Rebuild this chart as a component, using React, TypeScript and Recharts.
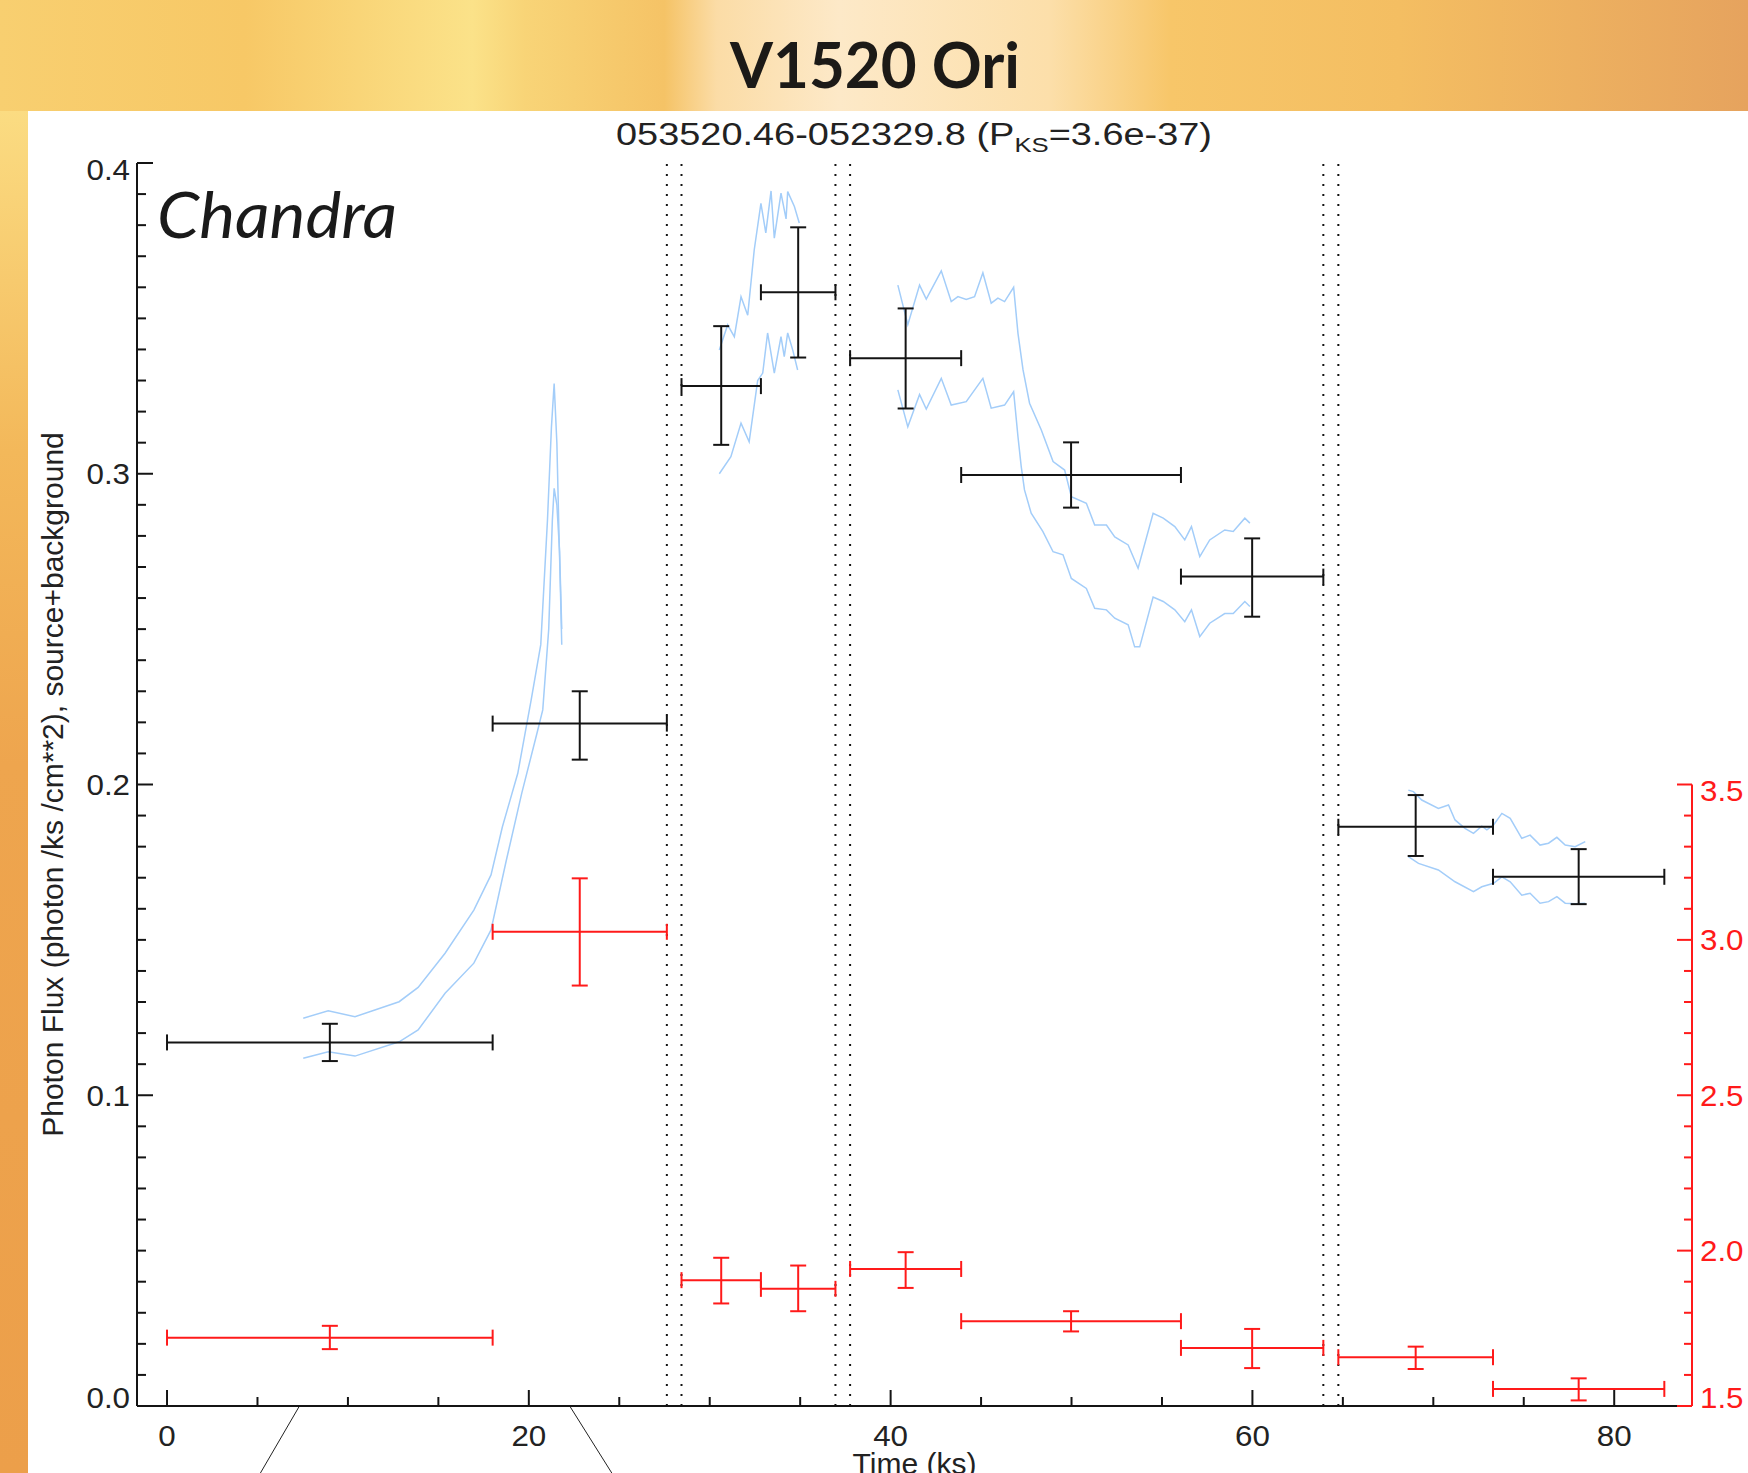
import React from 'react'
import { ComposedChart, XAxis, YAxis, Line, Scatter, ErrorBar, ReferenceLine } from 'recharts'

const W = 1748
const H = 1473

const FONT = '"Liberation Sans", Arial, Helvetica, sans-serif'
const INK = '#141414'
const RED = '#ff1a1a'
const BLUE = '#a3cdf9'

// time bins (ks)
const binStart = [0, 18, 28.44, 32.83, 37.76, 43.9, 56.05, 64.75, 73.3]
const binEnd = [18, 27.63, 32.83, 36.95, 43.9, 56.05, 63.92, 73.3, 82.77]

// photon flux, source+background
const flux = [0.117, 0.2196, 0.3282, 0.3584, 0.3372, 0.2996, 0.2669, 0.1864, 0.1703]
const fluxLow = [0.111, 0.208, 0.3093, 0.3374, 0.321, 0.2891, 0.254, 0.177, 0.1615]
const fluxHigh = [0.123, 0.23, 0.3475, 0.3793, 0.3532, 0.3101, 0.2792, 0.1966, 0.1792]

// median energy (keV), right axis
const energy = [1.72, 3.026, 1.905, 1.877, 1.941, 1.773, 1.687, 1.657, 1.555]
const energyLow = [1.683, 2.853, 1.83, 1.805, 1.88, 1.74, 1.622, 1.619, 1.518]
const energyHigh = [1.758, 3.198, 1.977, 1.952, 1.995, 1.805, 1.748, 1.691, 1.589]

// good-time-interval breaks
const gtiBreaks = [27.63, 28.44, 36.95, 37.76, 63.92, 64.75]

// smoothed light-curve envelopes: [time, flux]
const upperA = [[7.53, 0.1248], [8.91, 0.1272], [10.39, 0.1253], [12.83, 0.1301], [13.88, 0.1347], [15.37, 0.1457], [16.96, 0.1596], [17.91, 0.1709], [18.54, 0.1864], [19.39, 0.2036], [20.13, 0.2272], [20.66, 0.245], [21.03, 0.285], [21.25, 0.315], [21.4, 0.329], [21.55, 0.31], [21.67, 0.28], [21.75, 0.262], [21.82, 0.245]]
const lowerA = [[7.53, 0.1119], [8.91, 0.114], [10.39, 0.1126], [12.83, 0.1172], [13.88, 0.121], [15.37, 0.1328], [16.96, 0.1425], [17.91, 0.1532], [18.76, 0.1757], [19.61, 0.1972], [20.45, 0.2165], [20.77, 0.224], [21.1, 0.25], [21.3, 0.285], [21.4, 0.2953], [21.55, 0.29], [21.7, 0.275], [21.82, 0.25]]
const upperB = [[30.53, 0.3398], [30.99, 0.3479], [31.36, 0.3441], [31.73, 0.357], [32.1, 0.351], [32.46, 0.372], [32.83, 0.387], [33.1, 0.3775], [33.39, 0.391], [33.57, 0.3758], [33.94, 0.3903], [34.22, 0.382], [34.31, 0.3908], [34.68, 0.386], [34.95, 0.3807]]
const lowerB = [[30.53, 0.3], [31.17, 0.3055], [31.73, 0.3163], [32.18, 0.3103], [32.65, 0.33], [32.93, 0.3324], [33.2, 0.3453], [33.57, 0.3324], [33.94, 0.3441], [34.12, 0.3377], [34.31, 0.3453], [34.59, 0.3398], [34.86, 0.3334]]
const upperC = [[40.4, 0.3607], [40.95, 0.348], [41.6, 0.3607], [41.97, 0.3562], [42.8, 0.3653], [43.35, 0.3554], [43.72, 0.357], [44.18, 0.3561], [44.64, 0.357], [45.1, 0.3647], [45.56, 0.3549], [45.93, 0.3565], [46.3, 0.3554], [46.8, 0.36], [47.04, 0.3452], [47.32, 0.3334], [47.68, 0.3227], [48.33, 0.3141], [48.98, 0.3039], [49.62, 0.3012], [49.99, 0.2926], [50.82, 0.2905], [51.28, 0.2835], [51.93, 0.2835], [52.39, 0.2797], [53.13, 0.2771], [53.68, 0.2696], [54.51, 0.2873], [55.07, 0.2857], [55.71, 0.283], [56.26, 0.2787], [56.63, 0.283], [57.09, 0.2733], [57.64, 0.2787], [58.47, 0.2819], [58.94, 0.2814], [59.58, 0.2857], [59.86, 0.2841]]
const lowerC = [[40.4, 0.327], [40.95, 0.3151], [41.6, 0.3255], [41.97, 0.3208], [42.8, 0.3307], [43.35, 0.3221], [44.18, 0.3232], [45.1, 0.3307], [45.56, 0.3211], [46.3, 0.3221], [46.8, 0.3264], [47.04, 0.3119], [47.22, 0.3023], [47.4, 0.2948], [47.77, 0.2873], [48.42, 0.2814], [48.98, 0.2749], [49.53, 0.2739], [49.99, 0.2663], [50.82, 0.2631], [51.28, 0.2567], [51.93, 0.2562], [52.39, 0.2535], [53.13, 0.2514], [53.49, 0.2443], [53.77, 0.2443], [54.51, 0.2603], [55.07, 0.2589], [55.71, 0.2562], [56.26, 0.2524], [56.63, 0.2562], [57.09, 0.2476], [57.64, 0.2519], [58.47, 0.255], [58.94, 0.255], [59.58, 0.2589], [59.86, 0.2573]]
const upperD = [[68.62, 0.1982], [68.9, 0.1977], [69.36, 0.195], [70.28, 0.1923], [70.84, 0.1934], [71.2, 0.1886], [71.75, 0.1859], [72.22, 0.1843], [72.68, 0.1866], [72.96, 0.1854], [73.33, 0.187], [73.79, 0.1907], [74.25, 0.1891], [74.89, 0.1827], [75.35, 0.1837], [75.9, 0.1805], [76.37, 0.1811], [76.83, 0.183], [77.29, 0.1805], [77.84, 0.18], [78.4, 0.1816]]
const lowerD = [[68.62, 0.1768], [69.18, 0.1746], [70.28, 0.1725], [71.2, 0.1687], [72.22, 0.1655], [72.68, 0.1671], [73.33, 0.1682], [73.79, 0.1703], [74.25, 0.1687], [74.89, 0.1644], [75.35, 0.165], [75.9, 0.1618], [76.37, 0.1623], [76.83, 0.1639], [77.29, 0.1618], [77.84, 0.1616], [78.4, 0.1618]]

// axis ranges
const xDomain: [number, number] = [-1.66, 84.3]
const yDomain: [number, number] = [0, 0.4]
const eDomain: [number, number] = [1.5, 5.5]

// callout lines below the time axis: [time, flux]
const callouts = [
  [[7.32, 0], [5.16, -0.0216]],
  [[22.26, 0], [24.59, -0.0216]],
]

const xTicks = Array.from({ length: 17 }, (_, i) => i * 5)
const yTicks = Array.from({ length: 41 }, (_, i) => i / 100)
const eTicks = Array.from({ length: 21 }, (_, i) => (i + 15) / 10)

const fluxPoints = binStart.map((s, i) => {
  const half = (binEnd[i] - s) / 2
  return { t: s + half, f: flux[i], tErr: [half, half], fErr: [flux[i] - fluxLow[i], fluxHigh[i] - flux[i]] }
})

const energyPoints = binStart.map((s, i) => {
  const half = (binEnd[i] - s) / 2
  return { t: s + half, e: energy[i], tErr: [half, half], eErr: [energy[i] - energyLow[i], energyHigh[i] - energy[i]] }
})

const envelopes = [upperA, lowerA, upperB, lowerB, upperC, lowerC, upperD, lowerD].map((seg) =>
  seg.map(([t, f]) => ({ t, f }))
)

const labelText = (x: number, y: number, text: string, anchor: string, fill: string) => (
  <text
    transform={`translate(${x},${y}) scale(1.08 1)`}
    textAnchor={anchor}
    fontSize={29}
    fontFamily={FONT}
    fill={fill}
  >
    {text}
  </text>
)

// end labels sit a little inside the axis range
const edgeNudge = (isFirst: boolean, isLast: boolean) => (isFirst ? -9 : isLast ? 6 : 0)

function BottomTick(props: any) {
  const { x, y, payload } = props
  const v = payload.value
  const major = v % 20 === 0
  return (
    <g>
      <line x1={x} x2={x} y1={y} y2={y - (major ? 16 : 9)} stroke={INK} strokeWidth={2} />
      {major && labelText(x, y + 40, String(v), 'middle', '#222')}
    </g>
  )
}

function TopTick(props: any) {
  const { x, y, payload } = props
  const major = payload.value % 20 === 0
  return <line x1={x} x2={x} y1={y} y2={y + (major ? 16 : 9)} stroke={INK} strokeWidth={2} />
}

function LeftTick(props: any) {
  const { x, y, payload } = props
  const k = Math.round(payload.value * 100)
  const major = k % 10 === 0
  const dy = edgeNudge(k === 0, k === 40)
  return (
    <g>
      <line x1={x} x2={x + (major ? 16 : 9)} y1={y} y2={y} stroke={INK} strokeWidth={2} />
      {major && labelText(x - 7, y + 10.5 + dy, (k / 100).toFixed(1), 'end', '#222')}
    </g>
  )
}

function RightTick(props: any) {
  const { x, y, payload } = props
  const k = Math.round(payload.value * 10)
  const major = k % 5 === 0
  const dy = edgeNudge(k === 15, k === 35)
  return (
    <g>
      <line x1={x} x2={x - (major ? 15 : 8)} y1={y} y2={y} stroke={RED} strokeWidth={2} />
      {major && labelText(x + 8, y + 10.5 + dy, (k / 10).toFixed(1), 'start', RED)}
    </g>
  )
}

const noMarker = () => <g />

export default function App() {
  return (
    <div style={{ position: 'absolute', left: 0, top: 0, width: W, height: H, overflow: 'hidden', background: '#fff' }}>
      <div
        style={{
          position: 'absolute', left: 0, top: 0, width: W, height: 111,
          background: 'linear-gradient(90deg, #f8cf70 0%, #f7c866 14%, #fbe289 27%, #f8d477 30%, #f5c366 38%, #fbdca6 41%, #fde9c8 48%, #fcdfaa 60%, #f7c669 67%, #f4be62 80%, #e6a35e 100%)',
        }}
      />
      <div
        style={{
          position: 'absolute', left: 0, top: 111, width: 28, height: H - 111,
          background: 'linear-gradient(180deg, #fbdc82 0%, #f3b85a 25%, #eea54e 48%, #ec9f4a 100%)',
        }}
      />
      <div style={{ position: 'absolute', left: 0, top: 0 }}>
        <ComposedChart width={W} height={H} margin={{ top: 163, right: 0, bottom: 0, left: 28 }}>
          <XAxis
            dataKey="t"
            type="number"
            domain={xDomain}
            allowDataOverflow
            ticks={xTicks}
            interval={0}
            tick={(p: any) => <BottomTick {...p} />}
            tickLine={false}
            tickSize={0}
            tickMargin={0}
            axisLine={{ stroke: INK, strokeWidth: 2 }}
            height={67}
            label={{ value: 'Time (ks)', position: 'insideBottom', offset: -1, fontSize: 30, fontFamily: FONT, fill: '#222' }}
          />
          <XAxis
            xAxisId="top"
            orientation="top"
            dataKey="t"
            type="number"
            domain={xDomain}
            allowDataOverflow
            ticks={xTicks}
            interval={0}
            tick={(p: any) => <TopTick {...p} />}
            tickLine={false}
            tickSize={0}
            tickMargin={0}
            axisLine={{ stroke: INK, strokeWidth: 2 }}
            height={0}
          />
          <YAxis
            type="number"
            domain={yDomain}
            allowDataOverflow
            ticks={yTicks}
            interval={0}
            tick={(p: any) => <LeftTick {...p} />}
            tickLine={false}
            tickSize={0}
            tickMargin={0}
            axisLine={{ stroke: INK, strokeWidth: 2 }}
            width={109}
            label={{
              value: 'Photon Flux (photon /ks /cm**2), source+background',
              angle: -90,
              position: 'insideLeft',
              offset: 24,
              style: { textAnchor: 'middle', fontSize: 30, fontFamily: FONT, fill: '#222' },
            }}
          />
          <YAxis
            yAxisId="red"
            orientation="right"
            type="number"
            domain={eDomain}
            allowDataOverflow
            ticks={eTicks}
            interval={0}
            tick={(p: any) => <RightTick {...p} />}
            tickLine={false}
            tickSize={0}
            tickMargin={0}
            axisLine={false}
            width={56}
          />

          {gtiBreaks.map((g) => (
            <ReferenceLine key={g} x={g} stroke={INK} strokeWidth={2} strokeDasharray="2 8" />
          ))}
          <ReferenceLine
            yAxisId="red"
            segment={[{ x: xDomain[1], y: eTicks[0] }, { x: xDomain[1], y: eTicks[eTicks.length - 1] }]}
            stroke={RED}
            strokeWidth={2}
            ifOverflow="visible"
          />
          {callouts.map((c, i) => (
            <ReferenceLine
              key={i}
              segment={[{ x: c[0][0], y: c[0][1] }, { x: c[1][0], y: c[1][1] }]}
              stroke="#222"
              strokeWidth={1}
              ifOverflow="visible"
            />
          ))}

          {envelopes.map((seg, i) => (
            <Line
              key={i}
              data={seg}
              dataKey="f"
              type="linear"
              stroke={BLUE}
              strokeWidth={1.5}
              dot={false}
              activeDot={false}
              isAnimationActive={false}
            />
          ))}

          <Scatter data={fluxPoints} dataKey="f" shape={noMarker} isAnimationActive={false}>
            <ErrorBar dataKey="tErr" direction="x" width={8} stroke={INK} strokeWidth={2} isAnimationActive={false} />
            <ErrorBar dataKey="fErr" direction="y" width={8} stroke={INK} strokeWidth={2} isAnimationActive={false} />
          </Scatter>
          <Scatter yAxisId="red" data={energyPoints} dataKey="e" shape={noMarker} isAnimationActive={false}>
            <ErrorBar dataKey="tErr" direction="x" width={8} stroke={RED} strokeWidth={2} isAnimationActive={false} />
            <ErrorBar dataKey="eErr" direction="y" width={8} stroke={RED} strokeWidth={2} isAnimationActive={false} />
          </Scatter>
        </ComposedChart>
      </div>
      <svg width={W} height={H} style={{ position: 'absolute', left: 0, top: 0, pointerEvents: 'none' }}>
        <text x={875} y={88} textAnchor="middle" fontFamily="Lato" fontWeight={700} fontSize={64} fill="#1c1a17" textLength={290} lengthAdjust="spacingAndGlyphs">
          V1520 Ori
        </text>
        <text x={914} y={145} textAnchor="middle" fontFamily={FONT} fontSize={31} fill="#222" textLength={596} lengthAdjust="spacingAndGlyphs">
          053520.46-052329.8 (P<tspan fontSize={21} dy={7}>KS</tspan><tspan dy={-7}>=3.6e-37)</tspan>
        </text>
        <text x={157} y={238} fontFamily="Lato" fontStyle="italic" fontSize={64} fill="#1a1a1a" textLength={240} lengthAdjust="spacingAndGlyphs">
          Chandra
        </text>
      </svg>
    </div>
  )
}
